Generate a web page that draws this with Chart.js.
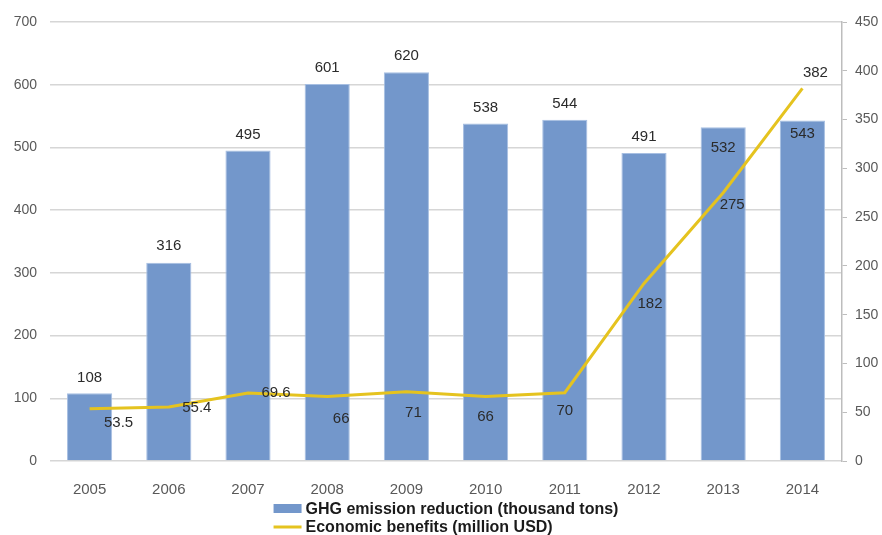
<!DOCTYPE html>
<html>
<head>
<meta charset="utf-8">
<script src="https://cdn.jsdelivr.net/npm/chart.js@4.4.1/dist/chart.umd.min.js"></script>
<style>
  html, body { margin: 0; padding: 0; background: #fff; }
  #wrap { width: 882px; height: 535px; }
</style>
</head>
<body>
<div id="wrap"><canvas id="ghgCanvas"></canvas></div>
<script>
const years = ['2005', '2006', '2007', '2008', '2009', '2010', '2011', '2012', '2013', '2014'];
const ghgReduction = [108, 316, 495, 601, 620, 538, 544, 491, 532, 543];
const economicBenefits = [53.5, 55.4, 69.6, 66, 71, 66, 70, 182, 275, 382];
const leftTicks = [0, 100, 200, 300, 400, 500, 600, 700];
const rightTicks = [0, 50, 100, 150, 200, 250, 300, 350, 400, 450];

const barColor = '#7397cb';
const lineColor = '#e5c31f';

Chart.defaults.font.family = "'Liberation Sans', Arial, sans-serif";

// label offsets (px) relative to each point, picked to match the original layout
const barLabelDy = [-15, -17, -16, -16, -16, -16, -16, -16, 20, 13];
const lineLabelOffset = [[29, 14], [28, 1], [28, 0], [14, 22], [7, 21], [0, 20], [0, 18], [6, 20], [9, 12], [13, -15]];

const valueLabels = {
  id: 'valueLabels',
  afterDatasetsDraw(chart) {
    const ctx = chart.ctx;
    ctx.save();
    ctx.font = "15px 'Liberation Sans', Arial, sans-serif";
    ctx.fillStyle = '#2b2b2b';
    ctx.textAlign = 'center';
    ctx.textBaseline = 'middle';
    chart.getDatasetMeta(0).data.forEach((bar, i) => {
      ctx.fillText(String(ghgReduction[i]), bar.x, bar.y + barLabelDy[i]);
    });
    chart.getDatasetMeta(1).data.forEach((pt, i) => {
      const [dx, dy] = lineLabelOffset[i];
      ctx.fillText(String(economicBenefits[i]), pt.x + dx, pt.y + dy);
    });
    ctx.restore();
  }
};

// legend stacked in two rows under the axis, like the original
const stackedLegend = {
  id: 'stackedLegend',
  afterDraw(chart) {
    const ctx = chart.ctx;
    const area = chart.chartArea;
    const ds = chart.data.datasets;
    ctx.save();
    ctx.font = "bold 16px 'Liberation Sans', Arial, sans-serif";
    const textW = Math.max(...ds.map(d => ctx.measureText(d.label).width));
    const left = (area.left + area.right) / 2 - (32 + textW) / 2;
    const rows = [509, 527];
    ctx.textAlign = 'left';
    ctx.textBaseline = 'middle';
    ds.forEach((d, i) => {
      const y = rows[i];
      if (d.type === 'bar') {
        ctx.fillStyle = d.backgroundColor;
        ctx.fillRect(left, y - 5, 28, 9);
      } else {
        ctx.strokeStyle = d.borderColor;
        ctx.lineWidth = 3;
        ctx.beginPath();
        ctx.moveTo(left, y);
        ctx.lineTo(left + 28, y);
        ctx.stroke();
      }
      ctx.fillStyle = '#1a1a1a';
      ctx.fillText(d.label, left + 32, y + 1);
    });
    ctx.restore();
  }
};

const chart = new Chart(document.getElementById('ghgCanvas'), {
  data: {
    labels: years,
    datasets: [
      {
        type: 'bar',
        label: 'GHG emission reduction (thousand tons)',
        data: ghgReduction,
        yAxisID: 'y',
        backgroundColor: barColor,
        borderColor: '#a7bfe2',
        borderWidth: 1,
        barPercentage: 0.57,
        categoryPercentage: 1,
        order: 1
      },
      {
        type: 'line',
        label: 'Economic benefits (million USD)',
        data: economicBenefits,
        yAxisID: 'y2',
        borderColor: lineColor,
        backgroundColor: lineColor,
        borderWidth: 3,
        pointRadius: 0,
        tension: 0,
        order: 0
      }
    ]
  },
  options: {
    responsive: true,
    maintainAspectRatio: false,
    animation: false,
    layout: { padding: { top: 22, bottom: 34, left: 0, right: 0 } },
    plugins: {
      legend: { display: false },
      tooltip: { enabled: false }
    },
    scales: {
      x: {
        grid: { display: false },
        border: { display: false },
        ticks: { color: '#595959', font: { size: 15 }, padding: 12 },
        afterFit(scale) { scale.height = 40; }
      },
      y: {
        position: 'left',
        min: 0,
        max: 700,
        afterBuildTicks(scale) { scale.ticks = leftTicks.map(v => ({ value: v })); },
        grid: { color: '#d6d6d6', lineWidth: 1.5, drawTicks: false },
        border: { display: false },
        ticks: { color: '#595959', font: { size: 14 }, padding: 13 },
        afterFit(scale) { scale.width = 50; }
      },
      y2: {
        position: 'right',
        min: 0,
        max: 450,
        afterBuildTicks(scale) { scale.ticks = rightTicks.map(v => ({ value: v })); },
        grid: { drawOnChartArea: false, color: '#bdbdbd', tickLength: 5 },
        border: { display: true, color: '#bdbdbd', width: 1.5 },
        ticks: { color: '#595959', font: { size: 14 }, padding: 8 },
        afterFit(scale) { scale.width = 40; }
      }
    }
  },
  plugins: [valueLabels, stackedLegend]
});
</script>
</body>
</html>
